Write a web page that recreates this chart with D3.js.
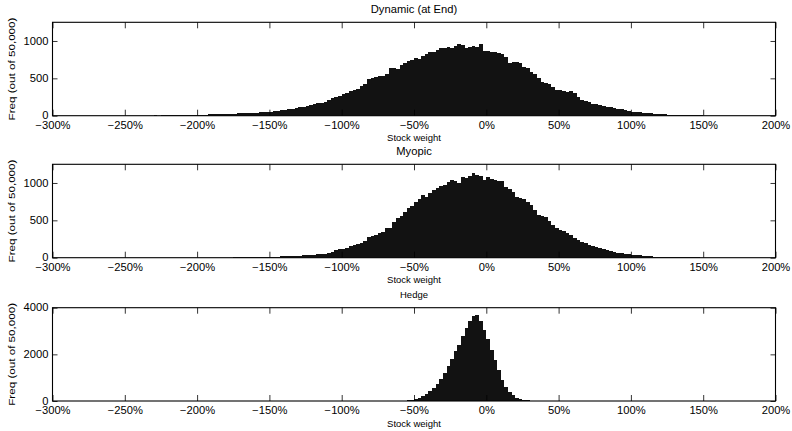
<!DOCTYPE html>
<html>
<head>
<meta charset="utf-8">
<script src="https://cdn.jsdelivr.net/npm/d3@7"></script>
<style>
  body { margin: 0; background: #fff; }
  svg { display: block; }
  text { font-family: "Liberation Sans", Arial, Helvetica, sans-serif; fill: #000; }
</style>
</head>
<body>
<svg id="chart" width="792" height="431"></svg>
<script>
// Histogram bins: 2.5 percentage points wide, counts out of 50,000 simulations
const binWidth = 2.5;
const xTicks = [-300, -250, -200, -150, -100, -50, 0, 50, 100, 150, 200];

const dynamicStart = -240;
const dynamicCounts = [
  1,0,2,1,3,2,3,4,4,5,6,6,8,9,10,11,12,14,15,17,18,20,22,23,26,27,29,31,33,34,36,38,
  41,44,48,52,56,60,66,72,80,86,92,100,110,118,126,138,150,166,176,190,205,238,245,262,
  288,300,335,342,360,395,421,488,500,515,528,536,560,632,640,625,680,700,733,740,768,760,
  804,830,858,850,880,911,905,918,911,930,957,940,903,920,934,915,957,871,865,858,850,836,
  830,790,710,715,723,700,657,640,590,560,500,455,434,420,385,350,344,335,320,325,300,250,
  215,200,180,160,155,140,128,122,110,100,90,84,72,65,56,52,45,40,35,32,28,24,20,18,15,13,
  11,10,8,7,6,5,4,5,2,1,1,0
];

const myopicStart = -185;
const myopicCounts = [
  1,1,2,2,3,3,4,4,5,6,7,8,9,10,12,13,15,18,20,22,24,26,29,31,34,37,40,44,48,55,66,80,
  108,114,122,135,150,166,180,201,225,281,290,300,335,348,393,400,482,530,558,610,661,690,
  750,780,840,808,870,906,930,960,975,1018,1040,1030,996,1085,1063,1095,1130,1110,1094,1040,
  1076,1055,1040,1031,1025,951,920,884,817,800,782,750,706,640,572,560,549,490,438,400,371,
  355,335,300,260,240,214,195,170,150,140,126,112,103,88,72,67,58,50,45,40,35,31,27,22,19,
  15,13,11,10,9,8,8,7,6,5,4,3,3,2,2,1,1
];

const hedgeStart = -62.5;
const hedgeCounts = [
  5,10,18,30,50,80,125,220,310,430,570,750,960,1220,1500,1800,2150,2400,2780,3150,3450,
  3660,3680,3420,3050,2650,2200,1760,1330,920,610,390,240,150,90,55,30,18,9,4,2
];

const panelTitles = ["Dynamic (at End)", "Myopic", "Hedge"];
const panelYMax = [1250, 1250, 4000];
const panelYTicks = [[0, 500, 1000], [0, 500, 1000], [0, 2000, 4000]];
const panelStarts = [dynamicStart, myopicStart, hedgeStart];
const panelCounts = [dynamicCounts, myopicCounts, hedgeCounts];
const xLabel = "Stock weight";
const yLabel = "Freq (out of 50,000)";

// layout
const plotLeft = 52.5, plotRight = 775.5;
const panelTop = [22.3, 164.3, 307.7];
const panelBottom = [115.7, 257.7, 401];
const titleSize = [10, 10, 8.5];
const textStretch = "scale(1.12,1)";
const barColor = "#121212";

const svg = d3.select("#chart");
const fmtPct = v => (v < 0 ? "\u2212" + Math.abs(v) : String(v)) + "%";

panelTitles.forEach((title, p) => {
  const top = panelTop[p], bottom = panelBottom[p];
  const x = d3.scaleLinear().domain([-300, 200]).range([plotLeft, plotRight]);
  const y = d3.scaleLinear().domain([0, panelYMax[p]]).range([bottom, top]);
  const g = svg.append("g");

  const clipId = "clip" + p;
  svg.append("clipPath").attr("id", clipId)
    .append("rect").attr("x", plotLeft).attr("y", top)
    .attr("width", plotRight - plotLeft).attr("height", bottom - top);

  const bins = panelCounts[p].map((c, i) => ({ x0: panelStarts[p] + i * binWidth, count: c }))
    .filter(d => d.count > 0);

  g.append("g").attr("clip-path", `url(#${clipId})`)
    .attr("shape-rendering", "crispEdges")
    .selectAll("rect").data(bins).join("rect")
    .attr("x", d => x(d.x0))
    .attr("width", d => x(d.x0 + binWidth) - x(d.x0))
    .attr("y", d => y(d.count))
    .attr("height", d => bottom - y(d.count))
    .attr("fill", barColor);

  // axes with inward ticks on all four sides
  const styleAxis = sel => {
    sel.select(".domain").remove();
    sel.selectAll(".tick line").attr("stroke", "#000").attr("stroke-width", 0.8);
    sel.selectAll(".tick text").attr("font-size", 10).attr("font-family", null).attr("fill", "#000");
  };

  g.append("g").attr("transform", `translate(0,${bottom})`)
    .call(d3.axisBottom(x).tickValues(xTicks).tickSize(-6).tickPadding(5.8).tickFormat(fmtPct))
    .call(styleAxis)
    .selectAll(".tick text").attr("transform", textStretch);

  g.append("g").attr("transform", `translate(0,${top})`)
    .call(d3.axisTop(x).tickValues(xTicks).tickSize(-6).tickFormat(""))
    .call(styleAxis);

  g.append("g").attr("transform", `translate(${plotLeft},0)`)
    .call(d3.axisLeft(y).tickValues(panelYTicks[p]).tickSize(-5).tickPadding(3.6).tickFormat(d3.format("d")))
    .call(styleAxis)
    .selectAll(".tick text").attr("transform", textStretch);

  g.append("g").attr("transform", `translate(${plotRight},0)`)
    .call(d3.axisRight(y).tickValues(panelYTicks[p]).tickSize(-5).tickFormat(""))
    .call(styleAxis);

  // frame
  g.append("rect")
    .attr("x", plotLeft).attr("y", top)
    .attr("width", plotRight - plotLeft).attr("height", bottom - top)
    .attr("fill", "none").attr("stroke", "#000").attr("stroke-width", 1.1);

  const cx = (plotLeft + plotRight) / 2;

  g.append("text")
    .attr("transform", `translate(${cx},${top - 9.8}) ${textStretch}`)
    .attr("text-anchor", "middle")
    .attr("font-size", titleSize[p])
    .text(title);

  g.append("text")
    .attr("transform", `translate(${cx},${bottom + 25.6}) ${textStretch}`)
    .attr("text-anchor", "middle")
    .attr("font-size", 8.5)
    .text(xLabel);

  g.append("text")
    .attr("transform", `translate(15,${(top + bottom) / 2}) rotate(-90) scale(1.06,0.85)`)
    .attr("text-anchor", "middle")
    .attr("font-size", 11)
    .text(yLabel);
});
</script>
</body>
</html>
